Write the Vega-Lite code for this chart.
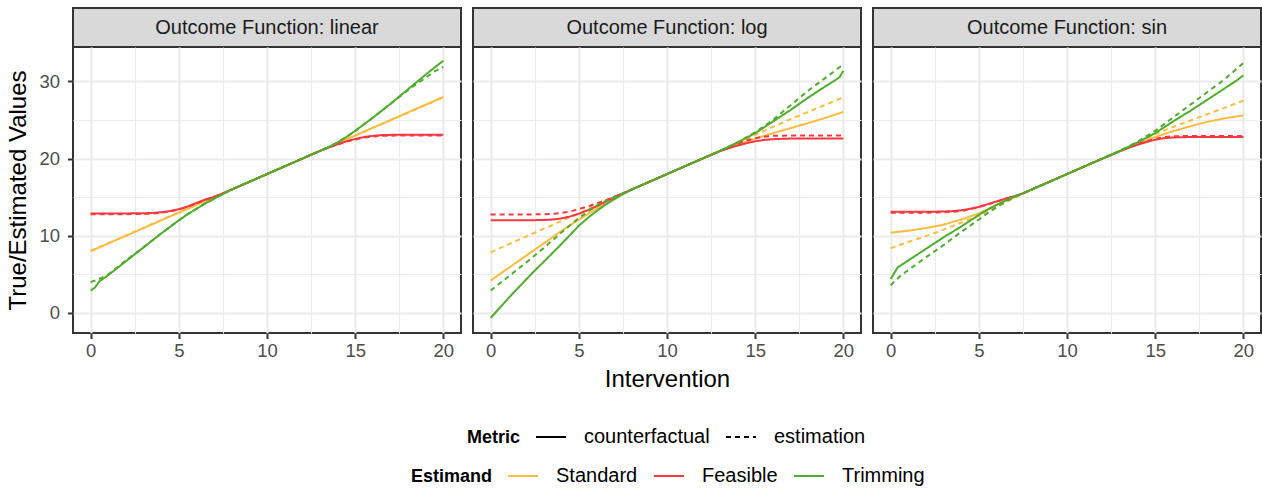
{
  "$schema": "https://vega.github.io/schema/vega-lite/v6.json",
  "background": "white",
  "padding": {"left": 5, "top": 7, "right": 0, "bottom": 0},
  "autosize": {"type": "pad"},
  "config": {
    "font": "Liberation Sans",
    "legend": {
      "titleFont": "Liberation Sans", "titleFontSize": 18, "titleFontWeight": "bold", "titleColor": "black",
      "labelFont": "Liberation Sans", "labelFontSize": 20, "labelColor": "black",
      "symbolType": "stroke", "symbolSize": 900, "symbolStrokeWidth": 2,
      "labelOffset": 17, "columnPadding": 12, "titlePadding": 14,
      "titleAnchor": "end", "titleBaseline": "bottom"
    }
  },
  "data": {"values": [
    {"f":"linear","m":"counterfactual","e":"Standard","x":0,"y":8},
    {"f":"linear","m":"counterfactual","e":"Standard","x":5,"y":13},
    {"f":"linear","m":"counterfactual","e":"Standard","x":10,"y":18},
    {"f":"linear","m":"counterfactual","e":"Standard","x":15,"y":23},
    {"f":"linear","m":"counterfactual","e":"Standard","x":20,"y":28},
    {"f":"linear","m":"estimation","e":"Standard","x":0,"y":8.05},
    {"f":"linear","m":"estimation","e":"Standard","x":5,"y":13.02},
    {"f":"linear","m":"estimation","e":"Standard","x":10,"y":18},
    {"f":"linear","m":"estimation","e":"Standard","x":15,"y":22.98},
    {"f":"linear","m":"estimation","e":"Standard","x":20,"y":27.95},
    {"f":"linear","m":"counterfactual","e":"Feasible","x":0,"y":12.9},
    {"f":"linear","m":"counterfactual","e":"Feasible","x":1,"y":12.9},
    {"f":"linear","m":"counterfactual","e":"Feasible","x":2,"y":12.9},
    {"f":"linear","m":"counterfactual","e":"Feasible","x":3,"y":12.92},
    {"f":"linear","m":"counterfactual","e":"Feasible","x":3.5,"y":12.97},
    {"f":"linear","m":"counterfactual","e":"Feasible","x":4,"y":13.05},
    {"f":"linear","m":"counterfactual","e":"Feasible","x":4.5,"y":13.2},
    {"f":"linear","m":"counterfactual","e":"Feasible","x":5,"y":13.45},
    {"f":"linear","m":"counterfactual","e":"Feasible","x":5.5,"y":13.8},
    {"f":"linear","m":"counterfactual","e":"Feasible","x":6,"y":14.25},
    {"f":"linear","m":"counterfactual","e":"Feasible","x":6.5,"y":14.7},
    {"f":"linear","m":"counterfactual","e":"Feasible","x":7,"y":15.05},
    {"f":"linear","m":"counterfactual","e":"Feasible","x":7.5,"y":15.5},
    {"f":"linear","m":"counterfactual","e":"Feasible","x":8,"y":16},
    {"f":"linear","m":"counterfactual","e":"Feasible","x":10,"y":18},
    {"f":"linear","m":"counterfactual","e":"Feasible","x":12,"y":20},
    {"f":"linear","m":"counterfactual","e":"Feasible","x":13,"y":21},
    {"f":"linear","m":"counterfactual","e":"Feasible","x":13.5,"y":21.45},
    {"f":"linear","m":"counterfactual","e":"Feasible","x":14,"y":21.85},
    {"f":"linear","m":"counterfactual","e":"Feasible","x":14.5,"y":22.25},
    {"f":"linear","m":"counterfactual","e":"Feasible","x":15,"y":22.55},
    {"f":"linear","m":"counterfactual","e":"Feasible","x":15.5,"y":22.8},
    {"f":"linear","m":"counterfactual","e":"Feasible","x":16,"y":22.95},
    {"f":"linear","m":"counterfactual","e":"Feasible","x":16.5,"y":23.05},
    {"f":"linear","m":"counterfactual","e":"Feasible","x":17,"y":23.08},
    {"f":"linear","m":"counterfactual","e":"Feasible","x":18,"y":23.1},
    {"f":"linear","m":"counterfactual","e":"Feasible","x":20,"y":23.1},
    {"f":"linear","m":"estimation","e":"Feasible","x":0,"y":12.8},
    {"f":"linear","m":"estimation","e":"Feasible","x":1,"y":12.8},
    {"f":"linear","m":"estimation","e":"Feasible","x":2,"y":12.8},
    {"f":"linear","m":"estimation","e":"Feasible","x":3,"y":12.83},
    {"f":"linear","m":"estimation","e":"Feasible","x":3.5,"y":12.88},
    {"f":"linear","m":"estimation","e":"Feasible","x":4,"y":12.98},
    {"f":"linear","m":"estimation","e":"Feasible","x":4.5,"y":13.15},
    {"f":"linear","m":"estimation","e":"Feasible","x":5,"y":13.4},
    {"f":"linear","m":"estimation","e":"Feasible","x":5.5,"y":13.75},
    {"f":"linear","m":"estimation","e":"Feasible","x":6,"y":14.2},
    {"f":"linear","m":"estimation","e":"Feasible","x":6.5,"y":14.65},
    {"f":"linear","m":"estimation","e":"Feasible","x":7,"y":15.05},
    {"f":"linear","m":"estimation","e":"Feasible","x":7.5,"y":15.5},
    {"f":"linear","m":"estimation","e":"Feasible","x":8,"y":16},
    {"f":"linear","m":"estimation","e":"Feasible","x":10,"y":18},
    {"f":"linear","m":"estimation","e":"Feasible","x":12,"y":20},
    {"f":"linear","m":"estimation","e":"Feasible","x":13,"y":21},
    {"f":"linear","m":"estimation","e":"Feasible","x":13.5,"y":21.45},
    {"f":"linear","m":"estimation","e":"Feasible","x":14,"y":21.83},
    {"f":"linear","m":"estimation","e":"Feasible","x":14.5,"y":22.2},
    {"f":"linear","m":"estimation","e":"Feasible","x":15,"y":22.48},
    {"f":"linear","m":"estimation","e":"Feasible","x":15.5,"y":22.72},
    {"f":"linear","m":"estimation","e":"Feasible","x":16,"y":22.87},
    {"f":"linear","m":"estimation","e":"Feasible","x":16.5,"y":22.95},
    {"f":"linear","m":"estimation","e":"Feasible","x":17,"y":22.98},
    {"f":"linear","m":"estimation","e":"Feasible","x":18,"y":23.0},
    {"f":"linear","m":"estimation","e":"Feasible","x":20,"y":23.0},
    {"f":"linear","m":"counterfactual","e":"Trimming","x":0,"y":2.9},
    {"f":"linear","m":"counterfactual","e":"Trimming","x":0.25,"y":3.3},
    {"f":"linear","m":"counterfactual","e":"Trimming","x":0.5,"y":4.1},
    {"f":"linear","m":"counterfactual","e":"Trimming","x":1,"y":4.9},
    {"f":"linear","m":"counterfactual","e":"Trimming","x":1.5,"y":5.8},
    {"f":"linear","m":"counterfactual","e":"Trimming","x":2,"y":6.7},
    {"f":"linear","m":"counterfactual","e":"Trimming","x":3,"y":8.5},
    {"f":"linear","m":"counterfactual","e":"Trimming","x":4,"y":10.3},
    {"f":"linear","m":"counterfactual","e":"Trimming","x":5,"y":12.0},
    {"f":"linear","m":"counterfactual","e":"Trimming","x":5.5,"y":12.8},
    {"f":"linear","m":"counterfactual","e":"Trimming","x":6,"y":13.5},
    {"f":"linear","m":"counterfactual","e":"Trimming","x":6.5,"y":14.2},
    {"f":"linear","m":"counterfactual","e":"Trimming","x":7,"y":14.8},
    {"f":"linear","m":"counterfactual","e":"Trimming","x":7.5,"y":15.4},
    {"f":"linear","m":"counterfactual","e":"Trimming","x":8,"y":16},
    {"f":"linear","m":"counterfactual","e":"Trimming","x":10,"y":18},
    {"f":"linear","m":"counterfactual","e":"Trimming","x":12,"y":20},
    {"f":"linear","m":"counterfactual","e":"Trimming","x":13,"y":21},
    {"f":"linear","m":"counterfactual","e":"Trimming","x":13.5,"y":21.5},
    {"f":"linear","m":"counterfactual","e":"Trimming","x":14,"y":22.1},
    {"f":"linear","m":"counterfactual","e":"Trimming","x":14.5,"y":22.8},
    {"f":"linear","m":"counterfactual","e":"Trimming","x":15,"y":23.6},
    {"f":"linear","m":"counterfactual","e":"Trimming","x":16,"y":25.3},
    {"f":"linear","m":"counterfactual","e":"Trimming","x":17,"y":27.1},
    {"f":"linear","m":"counterfactual","e":"Trimming","x":18,"y":29.0},
    {"f":"linear","m":"counterfactual","e":"Trimming","x":19,"y":30.9},
    {"f":"linear","m":"counterfactual","e":"Trimming","x":20,"y":32.7},
    {"f":"linear","m":"estimation","e":"Trimming","x":0,"y":4.0},
    {"f":"linear","m":"estimation","e":"Trimming","x":0.25,"y":4.2},
    {"f":"linear","m":"estimation","e":"Trimming","x":0.5,"y":4.4},
    {"f":"linear","m":"estimation","e":"Trimming","x":1,"y":5.0},
    {"f":"linear","m":"estimation","e":"Trimming","x":1.5,"y":5.9},
    {"f":"linear","m":"estimation","e":"Trimming","x":2,"y":6.8},
    {"f":"linear","m":"estimation","e":"Trimming","x":3,"y":8.5},
    {"f":"linear","m":"estimation","e":"Trimming","x":4,"y":10.3},
    {"f":"linear","m":"estimation","e":"Trimming","x":5,"y":12.0},
    {"f":"linear","m":"estimation","e":"Trimming","x":5.5,"y":12.8},
    {"f":"linear","m":"estimation","e":"Trimming","x":6,"y":13.5},
    {"f":"linear","m":"estimation","e":"Trimming","x":6.5,"y":14.2},
    {"f":"linear","m":"estimation","e":"Trimming","x":7,"y":14.8},
    {"f":"linear","m":"estimation","e":"Trimming","x":7.5,"y":15.4},
    {"f":"linear","m":"estimation","e":"Trimming","x":8,"y":16},
    {"f":"linear","m":"estimation","e":"Trimming","x":10,"y":18},
    {"f":"linear","m":"estimation","e":"Trimming","x":12,"y":20},
    {"f":"linear","m":"estimation","e":"Trimming","x":13,"y":21},
    {"f":"linear","m":"estimation","e":"Trimming","x":13.5,"y":21.5},
    {"f":"linear","m":"estimation","e":"Trimming","x":14,"y":22.1},
    {"f":"linear","m":"estimation","e":"Trimming","x":14.5,"y":22.8},
    {"f":"linear","m":"estimation","e":"Trimming","x":15,"y":23.6},
    {"f":"linear","m":"estimation","e":"Trimming","x":16,"y":25.3},
    {"f":"linear","m":"estimation","e":"Trimming","x":17,"y":27.1},
    {"f":"linear","m":"estimation","e":"Trimming","x":18,"y":28.9},
    {"f":"linear","m":"estimation","e":"Trimming","x":19,"y":30.5},
    {"f":"linear","m":"estimation","e":"Trimming","x":19.5,"y":31.3},
    {"f":"linear","m":"estimation","e":"Trimming","x":20,"y":31.9},

    {"f":"log","m":"counterfactual","e":"Standard","x":0,"y":4.2},
    {"f":"log","m":"counterfactual","e":"Standard","x":1,"y":5.8},
    {"f":"log","m":"counterfactual","e":"Standard","x":2,"y":7.4},
    {"f":"log","m":"counterfactual","e":"Standard","x":3,"y":9.0},
    {"f":"log","m":"counterfactual","e":"Standard","x":4,"y":10.6},
    {"f":"log","m":"counterfactual","e":"Standard","x":5,"y":12.1},
    {"f":"log","m":"counterfactual","e":"Standard","x":6,"y":13.5},
    {"f":"log","m":"counterfactual","e":"Standard","x":7,"y":14.7},
    {"f":"log","m":"counterfactual","e":"Standard","x":7.5,"y":15.4},
    {"f":"log","m":"counterfactual","e":"Standard","x":8,"y":16},
    {"f":"log","m":"counterfactual","e":"Standard","x":10,"y":18},
    {"f":"log","m":"counterfactual","e":"Standard","x":12,"y":20},
    {"f":"log","m":"counterfactual","e":"Standard","x":13,"y":21},
    {"f":"log","m":"counterfactual","e":"Standard","x":14,"y":21.85},
    {"f":"log","m":"counterfactual","e":"Standard","x":15,"y":22.6},
    {"f":"log","m":"counterfactual","e":"Standard","x":16,"y":23.3},
    {"f":"log","m":"counterfactual","e":"Standard","x":17,"y":23.95},
    {"f":"log","m":"counterfactual","e":"Standard","x":18,"y":24.6},
    {"f":"log","m":"counterfactual","e":"Standard","x":19,"y":25.3},
    {"f":"log","m":"counterfactual","e":"Standard","x":20,"y":26.05},
    {"f":"log","m":"estimation","e":"Standard","x":0,"y":7.85},
    {"f":"log","m":"estimation","e":"Standard","x":2,"y":9.9},
    {"f":"log","m":"estimation","e":"Standard","x":4,"y":11.9},
    {"f":"log","m":"estimation","e":"Standard","x":5,"y":12.9},
    {"f":"log","m":"estimation","e":"Standard","x":6,"y":14},
    {"f":"log","m":"estimation","e":"Standard","x":8,"y":16},
    {"f":"log","m":"estimation","e":"Standard","x":10,"y":18},
    {"f":"log","m":"estimation","e":"Standard","x":12,"y":20},
    {"f":"log","m":"estimation","e":"Standard","x":14,"y":22.0},
    {"f":"log","m":"estimation","e":"Standard","x":15,"y":23.1},
    {"f":"log","m":"estimation","e":"Standard","x":16,"y":24.1},
    {"f":"log","m":"estimation","e":"Standard","x":17,"y":25.1},
    {"f":"log","m":"estimation","e":"Standard","x":18,"y":26.05},
    {"f":"log","m":"estimation","e":"Standard","x":19,"y":27.0},
    {"f":"log","m":"estimation","e":"Standard","x":20,"y":27.95},
    {"f":"log","m":"counterfactual","e":"Feasible","x":0,"y":12.0},
    {"f":"log","m":"counterfactual","e":"Feasible","x":1,"y":12.0},
    {"f":"log","m":"counterfactual","e":"Feasible","x":2,"y":12.0},
    {"f":"log","m":"counterfactual","e":"Feasible","x":3,"y":12.05},
    {"f":"log","m":"counterfactual","e":"Feasible","x":3.5,"y":12.1},
    {"f":"log","m":"counterfactual","e":"Feasible","x":4,"y":12.25},
    {"f":"log","m":"counterfactual","e":"Feasible","x":4.5,"y":12.5},
    {"f":"log","m":"counterfactual","e":"Feasible","x":5,"y":12.85},
    {"f":"log","m":"counterfactual","e":"Feasible","x":5.5,"y":13.3},
    {"f":"log","m":"counterfactual","e":"Feasible","x":6,"y":13.8},
    {"f":"log","m":"counterfactual","e":"Feasible","x":6.5,"y":14.4},
    {"f":"log","m":"counterfactual","e":"Feasible","x":7,"y":15.0},
    {"f":"log","m":"counterfactual","e":"Feasible","x":7.5,"y":15.5},
    {"f":"log","m":"counterfactual","e":"Feasible","x":8,"y":16},
    {"f":"log","m":"counterfactual","e":"Feasible","x":10,"y":18},
    {"f":"log","m":"counterfactual","e":"Feasible","x":12,"y":20},
    {"f":"log","m":"counterfactual","e":"Feasible","x":13,"y":20.95},
    {"f":"log","m":"counterfactual","e":"Feasible","x":13.5,"y":21.35},
    {"f":"log","m":"counterfactual","e":"Feasible","x":14,"y":21.7},
    {"f":"log","m":"counterfactual","e":"Feasible","x":14.5,"y":22.0},
    {"f":"log","m":"counterfactual","e":"Feasible","x":15,"y":22.25},
    {"f":"log","m":"counterfactual","e":"Feasible","x":15.5,"y":22.42},
    {"f":"log","m":"counterfactual","e":"Feasible","x":16,"y":22.52},
    {"f":"log","m":"counterfactual","e":"Feasible","x":16.5,"y":22.57},
    {"f":"log","m":"counterfactual","e":"Feasible","x":17,"y":22.6},
    {"f":"log","m":"counterfactual","e":"Feasible","x":18,"y":22.6},
    {"f":"log","m":"counterfactual","e":"Feasible","x":20,"y":22.6},
    {"f":"log","m":"estimation","e":"Feasible","x":0,"y":12.75},
    {"f":"log","m":"estimation","e":"Feasible","x":2,"y":12.75},
    {"f":"log","m":"estimation","e":"Feasible","x":3,"y":12.8},
    {"f":"log","m":"estimation","e":"Feasible","x":3.5,"y":12.85},
    {"f":"log","m":"estimation","e":"Feasible","x":4,"y":12.95},
    {"f":"log","m":"estimation","e":"Feasible","x":4.5,"y":13.15},
    {"f":"log","m":"estimation","e":"Feasible","x":5,"y":13.45},
    {"f":"log","m":"estimation","e":"Feasible","x":5.5,"y":13.8},
    {"f":"log","m":"estimation","e":"Feasible","x":6,"y":14.2},
    {"f":"log","m":"estimation","e":"Feasible","x":6.5,"y":14.6},
    {"f":"log","m":"estimation","e":"Feasible","x":7,"y":15.05},
    {"f":"log","m":"estimation","e":"Feasible","x":7.5,"y":15.5},
    {"f":"log","m":"estimation","e":"Feasible","x":8,"y":16},
    {"f":"log","m":"estimation","e":"Feasible","x":10,"y":18},
    {"f":"log","m":"estimation","e":"Feasible","x":12,"y":20},
    {"f":"log","m":"estimation","e":"Feasible","x":13,"y":21},
    {"f":"log","m":"estimation","e":"Feasible","x":14,"y":21.95},
    {"f":"log","m":"estimation","e":"Feasible","x":14.5,"y":22.35},
    {"f":"log","m":"estimation","e":"Feasible","x":15,"y":22.65},
    {"f":"log","m":"estimation","e":"Feasible","x":15.5,"y":22.85},
    {"f":"log","m":"estimation","e":"Feasible","x":16,"y":22.95},
    {"f":"log","m":"estimation","e":"Feasible","x":17,"y":23.0},
    {"f":"log","m":"estimation","e":"Feasible","x":20,"y":23.0},
    {"f":"log","m":"counterfactual","e":"Trimming","x":0,"y":-0.65},
    {"f":"log","m":"counterfactual","e":"Trimming","x":1,"y":1.9},
    {"f":"log","m":"counterfactual","e":"Trimming","x":2,"y":4.3},
    {"f":"log","m":"counterfactual","e":"Trimming","x":2.5,"y":5.5},
    {"f":"log","m":"counterfactual","e":"Trimming","x":3,"y":6.6},
    {"f":"log","m":"counterfactual","e":"Trimming","x":4,"y":8.9},
    {"f":"log","m":"counterfactual","e":"Trimming","x":5,"y":11.3},
    {"f":"log","m":"counterfactual","e":"Trimming","x":5.5,"y":12.3},
    {"f":"log","m":"counterfactual","e":"Trimming","x":6,"y":13.2},
    {"f":"log","m":"counterfactual","e":"Trimming","x":6.5,"y":14.0},
    {"f":"log","m":"counterfactual","e":"Trimming","x":7,"y":14.75},
    {"f":"log","m":"counterfactual","e":"Trimming","x":7.5,"y":15.4},
    {"f":"log","m":"counterfactual","e":"Trimming","x":8,"y":16},
    {"f":"log","m":"counterfactual","e":"Trimming","x":10,"y":18},
    {"f":"log","m":"counterfactual","e":"Trimming","x":12,"y":20},
    {"f":"log","m":"counterfactual","e":"Trimming","x":13,"y":21},
    {"f":"log","m":"counterfactual","e":"Trimming","x":14,"y":22.1},
    {"f":"log","m":"counterfactual","e":"Trimming","x":15,"y":23.3},
    {"f":"log","m":"counterfactual","e":"Trimming","x":16,"y":24.8},
    {"f":"log","m":"counterfactual","e":"Trimming","x":17,"y":26.3},
    {"f":"log","m":"counterfactual","e":"Trimming","x":18,"y":27.9},
    {"f":"log","m":"counterfactual","e":"Trimming","x":19,"y":29.4},
    {"f":"log","m":"counterfactual","e":"Trimming","x":19.5,"y":30.1},
    {"f":"log","m":"counterfactual","e":"Trimming","x":19.8,"y":30.6},
    {"f":"log","m":"counterfactual","e":"Trimming","x":20,"y":31.4},
    {"f":"log","m":"estimation","e":"Trimming","x":0,"y":2.9},
    {"f":"log","m":"estimation","e":"Trimming","x":1,"y":4.7},
    {"f":"log","m":"estimation","e":"Trimming","x":2,"y":6.5},
    {"f":"log","m":"estimation","e":"Trimming","x":3,"y":8.4},
    {"f":"log","m":"estimation","e":"Trimming","x":4,"y":10.4},
    {"f":"log","m":"estimation","e":"Trimming","x":5,"y":12.3},
    {"f":"log","m":"estimation","e":"Trimming","x":5.5,"y":13.1},
    {"f":"log","m":"estimation","e":"Trimming","x":6,"y":13.9},
    {"f":"log","m":"estimation","e":"Trimming","x":6.5,"y":14.5},
    {"f":"log","m":"estimation","e":"Trimming","x":7,"y":15.0},
    {"f":"log","m":"estimation","e":"Trimming","x":7.5,"y":15.5},
    {"f":"log","m":"estimation","e":"Trimming","x":8,"y":16},
    {"f":"log","m":"estimation","e":"Trimming","x":10,"y":18},
    {"f":"log","m":"estimation","e":"Trimming","x":12,"y":20},
    {"f":"log","m":"estimation","e":"Trimming","x":13,"y":21},
    {"f":"log","m":"estimation","e":"Trimming","x":14,"y":22.1},
    {"f":"log","m":"estimation","e":"Trimming","x":15,"y":23.4},
    {"f":"log","m":"estimation","e":"Trimming","x":16,"y":25.0},
    {"f":"log","m":"estimation","e":"Trimming","x":17,"y":26.9},
    {"f":"log","m":"estimation","e":"Trimming","x":18,"y":28.8},
    {"f":"log","m":"estimation","e":"Trimming","x":19,"y":30.5},
    {"f":"log","m":"estimation","e":"Trimming","x":20,"y":32.2},

    {"f":"sin","m":"counterfactual","e":"Standard","x":0,"y":10.4},
    {"f":"sin","m":"counterfactual","e":"Standard","x":1,"y":10.65},
    {"f":"sin","m":"counterfactual","e":"Standard","x":2,"y":11.0},
    {"f":"sin","m":"counterfactual","e":"Standard","x":3,"y":11.45},
    {"f":"sin","m":"counterfactual","e":"Standard","x":4,"y":12.1},
    {"f":"sin","m":"counterfactual","e":"Standard","x":5,"y":12.9},
    {"f":"sin","m":"counterfactual","e":"Standard","x":5.5,"y":13.4},
    {"f":"sin","m":"counterfactual","e":"Standard","x":6,"y":14.0},
    {"f":"sin","m":"counterfactual","e":"Standard","x":6.5,"y":14.5},
    {"f":"sin","m":"counterfactual","e":"Standard","x":7,"y":15.0},
    {"f":"sin","m":"counterfactual","e":"Standard","x":7.5,"y":15.5},
    {"f":"sin","m":"counterfactual","e":"Standard","x":8,"y":16},
    {"f":"sin","m":"counterfactual","e":"Standard","x":10,"y":18},
    {"f":"sin","m":"counterfactual","e":"Standard","x":12,"y":20},
    {"f":"sin","m":"counterfactual","e":"Standard","x":13,"y":21},
    {"f":"sin","m":"counterfactual","e":"Standard","x":14,"y":21.95},
    {"f":"sin","m":"counterfactual","e":"Standard","x":15,"y":22.8},
    {"f":"sin","m":"counterfactual","e":"Standard","x":16,"y":23.55},
    {"f":"sin","m":"counterfactual","e":"Standard","x":17,"y":24.2},
    {"f":"sin","m":"counterfactual","e":"Standard","x":18,"y":24.8},
    {"f":"sin","m":"counterfactual","e":"Standard","x":19,"y":25.25},
    {"f":"sin","m":"counterfactual","e":"Standard","x":20,"y":25.6},
    {"f":"sin","m":"estimation","e":"Standard","x":0,"y":8.4},
    {"f":"sin","m":"estimation","e":"Standard","x":1,"y":9.2},
    {"f":"sin","m":"estimation","e":"Standard","x":2,"y":9.95},
    {"f":"sin","m":"estimation","e":"Standard","x":3,"y":10.8},
    {"f":"sin","m":"estimation","e":"Standard","x":4,"y":11.7},
    {"f":"sin","m":"estimation","e":"Standard","x":5,"y":12.6},
    {"f":"sin","m":"estimation","e":"Standard","x":6,"y":13.7},
    {"f":"sin","m":"estimation","e":"Standard","x":7,"y":14.9},
    {"f":"sin","m":"estimation","e":"Standard","x":8,"y":16},
    {"f":"sin","m":"estimation","e":"Standard","x":10,"y":18},
    {"f":"sin","m":"estimation","e":"Standard","x":12,"y":20},
    {"f":"sin","m":"estimation","e":"Standard","x":13,"y":21},
    {"f":"sin","m":"estimation","e":"Standard","x":14,"y":22.1},
    {"f":"sin","m":"estimation","e":"Standard","x":15,"y":23.2},
    {"f":"sin","m":"estimation","e":"Standard","x":16,"y":24.1},
    {"f":"sin","m":"estimation","e":"Standard","x":17,"y":24.95},
    {"f":"sin","m":"estimation","e":"Standard","x":18,"y":25.8},
    {"f":"sin","m":"estimation","e":"Standard","x":19,"y":26.65},
    {"f":"sin","m":"estimation","e":"Standard","x":20,"y":27.5},
    {"f":"sin","m":"counterfactual","e":"Feasible","x":0,"y":13.1},
    {"f":"sin","m":"counterfactual","e":"Feasible","x":2,"y":13.1},
    {"f":"sin","m":"counterfactual","e":"Feasible","x":3,"y":13.15},
    {"f":"sin","m":"counterfactual","e":"Feasible","x":3.5,"y":13.2},
    {"f":"sin","m":"counterfactual","e":"Feasible","x":4,"y":13.3},
    {"f":"sin","m":"counterfactual","e":"Feasible","x":4.5,"y":13.5},
    {"f":"sin","m":"counterfactual","e":"Feasible","x":5,"y":13.75},
    {"f":"sin","m":"counterfactual","e":"Feasible","x":5.5,"y":14.1},
    {"f":"sin","m":"counterfactual","e":"Feasible","x":6,"y":14.45},
    {"f":"sin","m":"counterfactual","e":"Feasible","x":6.5,"y":14.8},
    {"f":"sin","m":"counterfactual","e":"Feasible","x":7,"y":15.1},
    {"f":"sin","m":"counterfactual","e":"Feasible","x":7.5,"y":15.5},
    {"f":"sin","m":"counterfactual","e":"Feasible","x":8,"y":16},
    {"f":"sin","m":"counterfactual","e":"Feasible","x":10,"y":18},
    {"f":"sin","m":"counterfactual","e":"Feasible","x":12,"y":20},
    {"f":"sin","m":"counterfactual","e":"Feasible","x":13,"y":20.95},
    {"f":"sin","m":"counterfactual","e":"Feasible","x":13.5,"y":21.4},
    {"f":"sin","m":"counterfactual","e":"Feasible","x":14,"y":21.8},
    {"f":"sin","m":"counterfactual","e":"Feasible","x":14.5,"y":22.15},
    {"f":"sin","m":"counterfactual","e":"Feasible","x":15,"y":22.45},
    {"f":"sin","m":"counterfactual","e":"Feasible","x":15.5,"y":22.65},
    {"f":"sin","m":"counterfactual","e":"Feasible","x":16,"y":22.75},
    {"f":"sin","m":"counterfactual","e":"Feasible","x":17,"y":22.8},
    {"f":"sin","m":"counterfactual","e":"Feasible","x":20,"y":22.8},
    {"f":"sin","m":"estimation","e":"Feasible","x":0,"y":13.0},
    {"f":"sin","m":"estimation","e":"Feasible","x":2,"y":13.0},
    {"f":"sin","m":"estimation","e":"Feasible","x":3,"y":13.05},
    {"f":"sin","m":"estimation","e":"Feasible","x":3.5,"y":13.1},
    {"f":"sin","m":"estimation","e":"Feasible","x":4,"y":13.22},
    {"f":"sin","m":"estimation","e":"Feasible","x":4.5,"y":13.42},
    {"f":"sin","m":"estimation","e":"Feasible","x":5,"y":13.7},
    {"f":"sin","m":"estimation","e":"Feasible","x":5.5,"y":14.05},
    {"f":"sin","m":"estimation","e":"Feasible","x":6,"y":14.42},
    {"f":"sin","m":"estimation","e":"Feasible","x":6.5,"y":14.8},
    {"f":"sin","m":"estimation","e":"Feasible","x":7,"y":15.1},
    {"f":"sin","m":"estimation","e":"Feasible","x":7.5,"y":15.5},
    {"f":"sin","m":"estimation","e":"Feasible","x":8,"y":16},
    {"f":"sin","m":"estimation","e":"Feasible","x":10,"y":18},
    {"f":"sin","m":"estimation","e":"Feasible","x":12,"y":20},
    {"f":"sin","m":"estimation","e":"Feasible","x":13,"y":21},
    {"f":"sin","m":"estimation","e":"Feasible","x":13.5,"y":21.45},
    {"f":"sin","m":"estimation","e":"Feasible","x":14,"y":21.87},
    {"f":"sin","m":"estimation","e":"Feasible","x":14.5,"y":22.25},
    {"f":"sin","m":"estimation","e":"Feasible","x":15,"y":22.55},
    {"f":"sin","m":"estimation","e":"Feasible","x":15.5,"y":22.78},
    {"f":"sin","m":"estimation","e":"Feasible","x":16,"y":22.9},
    {"f":"sin","m":"estimation","e":"Feasible","x":17,"y":22.95},
    {"f":"sin","m":"estimation","e":"Feasible","x":20,"y":22.95},
    {"f":"sin","m":"counterfactual","e":"Trimming","x":0,"y":4.4},
    {"f":"sin","m":"counterfactual","e":"Trimming","x":0.4,"y":5.9},
    {"f":"sin","m":"counterfactual","e":"Trimming","x":1,"y":6.8},
    {"f":"sin","m":"counterfactual","e":"Trimming","x":2,"y":8.3},
    {"f":"sin","m":"counterfactual","e":"Trimming","x":3,"y":9.8},
    {"f":"sin","m":"counterfactual","e":"Trimming","x":4,"y":11.2},
    {"f":"sin","m":"counterfactual","e":"Trimming","x":5,"y":12.7},
    {"f":"sin","m":"counterfactual","e":"Trimming","x":5.5,"y":13.4},
    {"f":"sin","m":"counterfactual","e":"Trimming","x":6,"y":14.0},
    {"f":"sin","m":"counterfactual","e":"Trimming","x":6.5,"y":14.55},
    {"f":"sin","m":"counterfactual","e":"Trimming","x":7,"y":15.05},
    {"f":"sin","m":"counterfactual","e":"Trimming","x":7.5,"y":15.5},
    {"f":"sin","m":"counterfactual","e":"Trimming","x":8,"y":16},
    {"f":"sin","m":"counterfactual","e":"Trimming","x":10,"y":18},
    {"f":"sin","m":"counterfactual","e":"Trimming","x":12,"y":20},
    {"f":"sin","m":"counterfactual","e":"Trimming","x":13,"y":21},
    {"f":"sin","m":"counterfactual","e":"Trimming","x":14,"y":22.1},
    {"f":"sin","m":"counterfactual","e":"Trimming","x":15,"y":23.3},
    {"f":"sin","m":"counterfactual","e":"Trimming","x":16,"y":24.8},
    {"f":"sin","m":"counterfactual","e":"Trimming","x":17,"y":26.2},
    {"f":"sin","m":"counterfactual","e":"Trimming","x":18,"y":27.7},
    {"f":"sin","m":"counterfactual","e":"Trimming","x":19,"y":29.2},
    {"f":"sin","m":"counterfactual","e":"Trimming","x":19.6,"y":30.1},
    {"f":"sin","m":"counterfactual","e":"Trimming","x":20,"y":30.8},
    {"f":"sin","m":"estimation","e":"Trimming","x":0,"y":3.6},
    {"f":"sin","m":"estimation","e":"Trimming","x":0.6,"y":4.9},
    {"f":"sin","m":"estimation","e":"Trimming","x":1,"y":5.55},
    {"f":"sin","m":"estimation","e":"Trimming","x":2,"y":7.2},
    {"f":"sin","m":"estimation","e":"Trimming","x":3,"y":8.8},
    {"f":"sin","m":"estimation","e":"Trimming","x":4,"y":10.5},
    {"f":"sin","m":"estimation","e":"Trimming","x":5,"y":12.1},
    {"f":"sin","m":"estimation","e":"Trimming","x":5.5,"y":12.95},
    {"f":"sin","m":"estimation","e":"Trimming","x":6,"y":13.7},
    {"f":"sin","m":"estimation","e":"Trimming","x":6.5,"y":14.4},
    {"f":"sin","m":"estimation","e":"Trimming","x":7,"y":15.0},
    {"f":"sin","m":"estimation","e":"Trimming","x":7.5,"y":15.5},
    {"f":"sin","m":"estimation","e":"Trimming","x":8,"y":16},
    {"f":"sin","m":"estimation","e":"Trimming","x":10,"y":18},
    {"f":"sin","m":"estimation","e":"Trimming","x":12,"y":20},
    {"f":"sin","m":"estimation","e":"Trimming","x":13,"y":21},
    {"f":"sin","m":"estimation","e":"Trimming","x":14,"y":22.2},
    {"f":"sin","m":"estimation","e":"Trimming","x":15,"y":23.6},
    {"f":"sin","m":"estimation","e":"Trimming","x":16,"y":25.3},
    {"f":"sin","m":"estimation","e":"Trimming","x":17,"y":27.0},
    {"f":"sin","m":"estimation","e":"Trimming","x":18,"y":28.7},
    {"f":"sin","m":"estimation","e":"Trimming","x":19,"y":30.4},
    {"f":"sin","m":"estimation","e":"Trimming","x":20,"y":32.4}
  ]},
  "columns": 3,
  "bounds": "flush",
  "spacing": {"row": 0, "column": 12},
  "concat": [
    {
      "width": 388, "height": 39,
      "view": {"fill": "#D9D9D9", "stroke": "#333333", "strokeWidth": 2},
      "data": {"values": [{"s": "Outcome Function: linear"}]},
      "mark": {"type": "text", "fontSize": 20, "color": "#1A1A1A", "font": "Liberation Sans", "align": "center", "baseline": "middle"},
      "encoding": {"text": {"field": "s", "type": "nominal"}}
    },
    {
      "width": 388, "height": 39,
      "view": {"fill": "#D9D9D9", "stroke": "#333333", "strokeWidth": 2},
      "data": {"values": [{"s": "Outcome Function: log"}]},
      "mark": {"type": "text", "fontSize": 20, "color": "#1A1A1A", "font": "Liberation Sans", "align": "center", "baseline": "middle"},
      "encoding": {"text": {"field": "s", "type": "nominal"}}
    },
    {
      "width": 388, "height": 39,
      "view": {"fill": "#D9D9D9", "stroke": "#333333", "strokeWidth": 2},
      "data": {"values": [{"s": "Outcome Function: sin"}]},
      "mark": {"type": "text", "fontSize": 20, "color": "#1A1A1A", "font": "Liberation Sans", "align": "center", "baseline": "middle"},
      "encoding": {"text": {"field": "s", "type": "nominal"}}
    },
    {
      "width": 388, "height": 286,
      "view": {"fill": "white", "stroke": "#333333", "strokeWidth": 2},
      "transform": [{"filter": "datum.f === 'linear'"}],
      "mark": {"type": "line", "strokeWidth": 2, "clip": true},
      "encoding": {
        "x": {"field": "x", "type": "quantitative", "scale": {"domain": [-1, 21], "nice": false, "zero": false},
          "axis": {"values": [0, 2.5, 5, 7.5, 10, 12.5, 15, 17.5, 20], "labelExpr": "datum.value % 5 === 0 ? datum.label : ''",
            "domain": false, "grid": true, "gridColor": "#EBEBEB",
            "gridWidth": {"condition": {"test": "datum.value % 5 === 0", "value": 2.2}, "value": 1.1},
            "tickOpacity": {"condition": {"test": "datum.value % 5 === 0", "value": 1}, "value": 0},
            "tickColor": "#333333", "tickWidth": 2, "tickSize": 5.5,
            "labelFont": "Liberation Sans", "labelFontSize": 18.5, "labelColor": "#4D4D4D", "labelPadding": 3, "labelOverlap": false,
            "title": null}},
        "y": {"field": "y", "type": "quantitative", "scale": {"domain": [-2.6, 34.47], "nice": false, "zero": false},
          "axis": {"values": [0, 5, 10, 15, 20, 25, 30], "labelExpr": "datum.value % 10 === 0 ? datum.label : ''",
            "domain": false, "grid": true, "gridColor": "#EBEBEB",
            "gridWidth": {"condition": {"test": "datum.value % 10 === 0", "value": 2.2}, "value": 1.1},
            "tickOpacity": {"condition": {"test": "datum.value % 10 === 0", "value": 1}, "value": 0},
            "tickColor": "#333333", "tickWidth": 2, "tickSize": 5.5,
            "labelFont": "Liberation Sans", "labelFontSize": 18.5, "labelColor": "#4D4D4D", "labelPadding": 8, "labelOverlap": false,
            "title": "True/Estimated Values", "titleFont": "Liberation Sans", "titleFontSize": 24, "titleFontWeight": "normal", "titleColor": "black", "titlePadding": 8}},
        "color": {"field": "e", "type": "nominal",
          "scale": {"domain": ["Standard", "Feasible", "Trimming"], "range": ["#FDBB3F", "#F7373F", "#4FAC2F"]},
          "legend": {"title": "Estimand", "orient": "none", "legendX": 338, "legendY": 452, "direction": "horizontal", "titleOrient": "left"}},
        "strokeDash": {"field": "m", "type": "nominal",
          "scale": {"domain": ["counterfactual", "estimation"], "range": [[1, 0], [5, 4]]},
          "legend": {"title": "Metric", "orient": "none", "legendX": 394, "legendY": 413, "direction": "horizontal", "titleOrient": "left", "symbolStrokeColor": "black"}}
      }
    },
    {
      "width": 388, "height": 286,
      "view": {"fill": "white", "stroke": "#333333", "strokeWidth": 2},
      "transform": [{"filter": "datum.f === 'log'"}],
      "mark": {"type": "line", "strokeWidth": 2, "clip": true},
      "encoding": {
        "x": {"field": "x", "type": "quantitative", "scale": {"domain": [-1, 21], "nice": false, "zero": false},
          "axis": {"values": [0, 2.5, 5, 7.5, 10, 12.5, 15, 17.5, 20], "labelExpr": "datum.value % 5 === 0 ? datum.label : ''",
            "domain": false, "grid": true, "gridColor": "#EBEBEB",
            "gridWidth": {"condition": {"test": "datum.value % 5 === 0", "value": 2.2}, "value": 1.1},
            "tickOpacity": {"condition": {"test": "datum.value % 5 === 0", "value": 1}, "value": 0},
            "tickColor": "#333333", "tickWidth": 2, "tickSize": 5.5,
            "labelFont": "Liberation Sans", "labelFontSize": 18.5, "labelColor": "#4D4D4D", "labelPadding": 3, "labelOverlap": false,
            "title": "Intervention", "titleFont": "Liberation Sans", "titleFontSize": 24, "titleFontWeight": "normal", "titleColor": "black", "titlePadding": 7}},
        "y": {"field": "y", "type": "quantitative", "scale": {"domain": [-2.6, 34.47], "nice": false, "zero": false},
          "axis": {"values": [0, 5, 10, 15, 20, 25, 30],
            "domain": false, "grid": true, "gridColor": "#EBEBEB",
            "gridWidth": {"condition": {"test": "datum.value % 10 === 0", "value": 2.2}, "value": 1.1},
            "ticks": false, "labels": false, "title": null}},
        "color": {"field": "e", "type": "nominal",
          "scale": {"domain": ["Standard", "Feasible", "Trimming"], "range": ["#FDBB3F", "#F7373F", "#4FAC2F"]},
          "legend": {"title": "Estimand", "orient": "none", "legendX": 338, "legendY": 452, "direction": "horizontal", "titleOrient": "left"}},
        "strokeDash": {"field": "m", "type": "nominal",
          "scale": {"domain": ["counterfactual", "estimation"], "range": [[1, 0], [5, 4]]},
          "legend": {"title": "Metric", "orient": "none", "legendX": 394, "legendY": 413, "direction": "horizontal", "titleOrient": "left", "symbolStrokeColor": "black"}}
      }
    },
    {
      "width": 388, "height": 286,
      "view": {"fill": "white", "stroke": "#333333", "strokeWidth": 2},
      "transform": [{"filter": "datum.f === 'sin'"}],
      "mark": {"type": "line", "strokeWidth": 2, "clip": true},
      "encoding": {
        "x": {"field": "x", "type": "quantitative", "scale": {"domain": [-1, 21], "nice": false, "zero": false},
          "axis": {"values": [0, 2.5, 5, 7.5, 10, 12.5, 15, 17.5, 20], "labelExpr": "datum.value % 5 === 0 ? datum.label : ''",
            "domain": false, "grid": true, "gridColor": "#EBEBEB",
            "gridWidth": {"condition": {"test": "datum.value % 5 === 0", "value": 2.2}, "value": 1.1},
            "tickOpacity": {"condition": {"test": "datum.value % 5 === 0", "value": 1}, "value": 0},
            "tickColor": "#333333", "tickWidth": 2, "tickSize": 5.5,
            "labelFont": "Liberation Sans", "labelFontSize": 18.5, "labelColor": "#4D4D4D", "labelPadding": 3, "labelOverlap": false,
            "title": null}},
        "y": {"field": "y", "type": "quantitative", "scale": {"domain": [-2.6, 34.47], "nice": false, "zero": false},
          "axis": {"values": [0, 5, 10, 15, 20, 25, 30],
            "domain": false, "grid": true, "gridColor": "#EBEBEB",
            "gridWidth": {"condition": {"test": "datum.value % 10 === 0", "value": 2.2}, "value": 1.1},
            "ticks": false, "labels": false, "title": null}},
        "color": {"field": "e", "type": "nominal",
          "scale": {"domain": ["Standard", "Feasible", "Trimming"], "range": ["#FDBB3F", "#F7373F", "#4FAC2F"]},
          "legend": {"title": "Estimand", "orient": "none", "legendX": 338, "legendY": 452, "direction": "horizontal", "titleOrient": "left"}},
        "strokeDash": {"field": "m", "type": "nominal",
          "scale": {"domain": ["counterfactual", "estimation"], "range": [[1, 0], [5, 4]]},
          "legend": {"title": "Metric", "orient": "none", "legendX": 394, "legendY": 413, "direction": "horizontal", "titleOrient": "left", "symbolStrokeColor": "black"}}
      }
    }
  ]
}
